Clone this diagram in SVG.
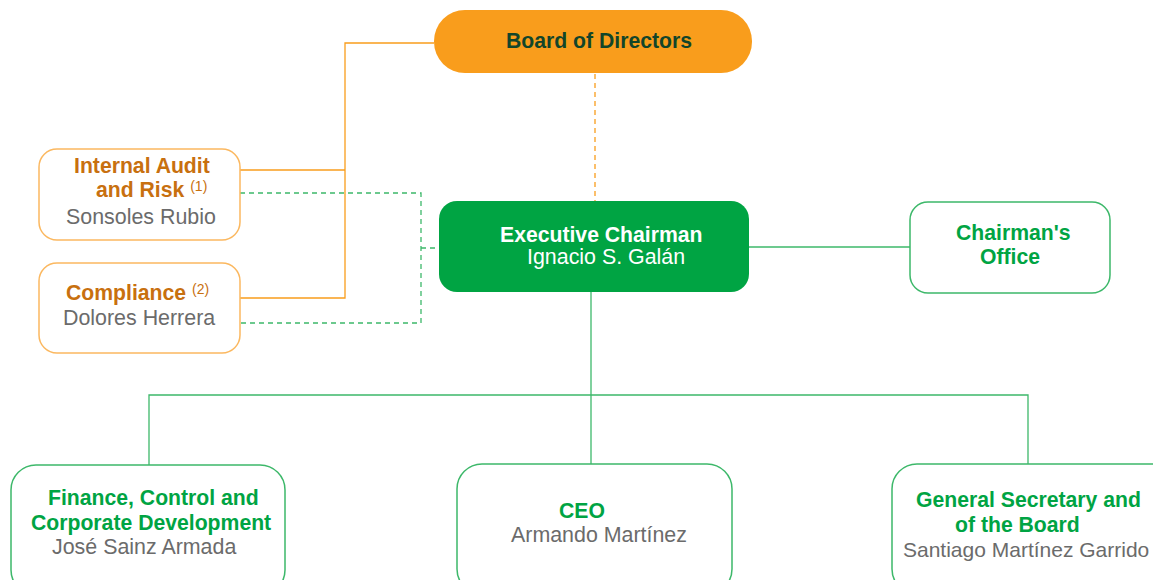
<svg xmlns="http://www.w3.org/2000/svg" width="1153" height="580" viewBox="0 0 1153 580">
<style>
.t{font-family:"Liberation Sans",Arial,sans-serif}
.b{font-weight:bold;font-size:21.2px}
.n{font-size:21.4px;fill:#6b6b6b}
.o{fill:#C8700F}
.g{fill:#00A443}
.w{fill:#ffffff}
.sup{font-size:14px;font-weight:normal;fill:#C8700F}
.ob{fill:#fff;stroke:#FBB860;stroke-width:1.5}
.gb{fill:#fff;stroke:#3DB86A;stroke-width:1.5}
.ol{fill:none;stroke:#F99D1C;stroke-width:1.3}
.gl{fill:none;stroke:#3DB86A;stroke-width:1.3}
.gd{fill:none;stroke:#3DB86A;stroke-width:1.3;stroke-dasharray:5,4}
.od{fill:none;stroke:#F99D1C;stroke-width:1.3;stroke-dasharray:5,4}
</style>
<rect width="1153" height="580" fill="#fff"/>
<g id="connectors">
<polyline class="ol" points="434,43 345,43 345,298 240,298"/>
<line class="ol" x1="345" y1="170" x2="240" y2="170"/>
<line class="od" x1="595" y1="74" x2="595" y2="201"/>
<polyline class="gd" points="240,193 421,193 421,323 240,323"/>
<line class="gd" x1="421" y1="248" x2="439" y2="248"/>
<line class="gl" x1="749" y1="247" x2="910" y2="247"/>
<polyline class="gl" points="591,292 591,395"/>
<polyline class="gl" points="149,465 149,395 1028,395 1028,465"/>
<line class="gl" x1="591" y1="395" x2="591" y2="464"/>
</g>
<g id="board">
<rect x="434" y="10" width="318" height="63" rx="31" fill="#F99D1C"/>
<text class="t b" x="506" y="48" fill="#12452A">Board of Directors</text>
</g>
<g id="internal-audit">
<rect class="ob" x="39" y="149" width="201" height="91" rx="18"/>
<text class="t b o" x="74" y="173">Internal Audit</text>
<text class="t b o" x="96" y="197">and Risk <tspan class="sup" dy="-6">(1)</tspan></text>
<text class="t n" x="66" y="224">Sonsoles Rubio</text>
</g>
<g id="compliance">
<rect class="ob" x="39" y="263" width="201" height="90" rx="18"/>
<text class="t b o" x="66" y="300">Compliance <tspan class="sup" dy="-6">(2)</tspan></text>
<text class="t n" x="63" y="325">Dolores Herrera</text>
</g>
<g id="executive-chairman">
<rect x="439" y="201" width="310" height="91" rx="18" fill="#00A443"/>
<text class="t b w" x="500" y="242">Executive Chairman</text>
<text class="t w" x="527" y="264" style="font-size:21.4px">Ignacio S. Galán</text>
</g>
<g id="chairmans-office">
<rect class="gb" x="910" y="202" width="200" height="91" rx="18"/>
<text class="t b g" x="956" y="240">Chairman's</text>
<text class="t b g" x="980" y="264">Office</text>
</g>
<g id="finance">
<rect class="gb" x="11" y="465" width="274" height="130" rx="25"/>
<text class="t b g" x="48" y="505">Finance, Control and</text>
<text class="t b g" x="31" y="530">Corporate Development</text>
<text class="t n" x="52" y="554">José Sainz Armada</text>
</g>
<g id="ceo">
<rect class="gb" x="457" y="464" width="275" height="130" rx="25"/>
<text class="t b g" x="559" y="518">CEO</text>
<text class="t n" x="511" y="542">Armando Martínez</text>
</g>
<g id="general-secretary">
<rect class="gb" x="892" y="464" width="290" height="130" rx="25"/>
<text class="t b g" x="916" y="507">General Secretary and</text>
<text class="t b g" x="955" y="532">of the Board</text>
<text class="t n" x="903" y="557" style="font-size:21px">Santiago Martínez Garrido</text>
</g>
</svg>
